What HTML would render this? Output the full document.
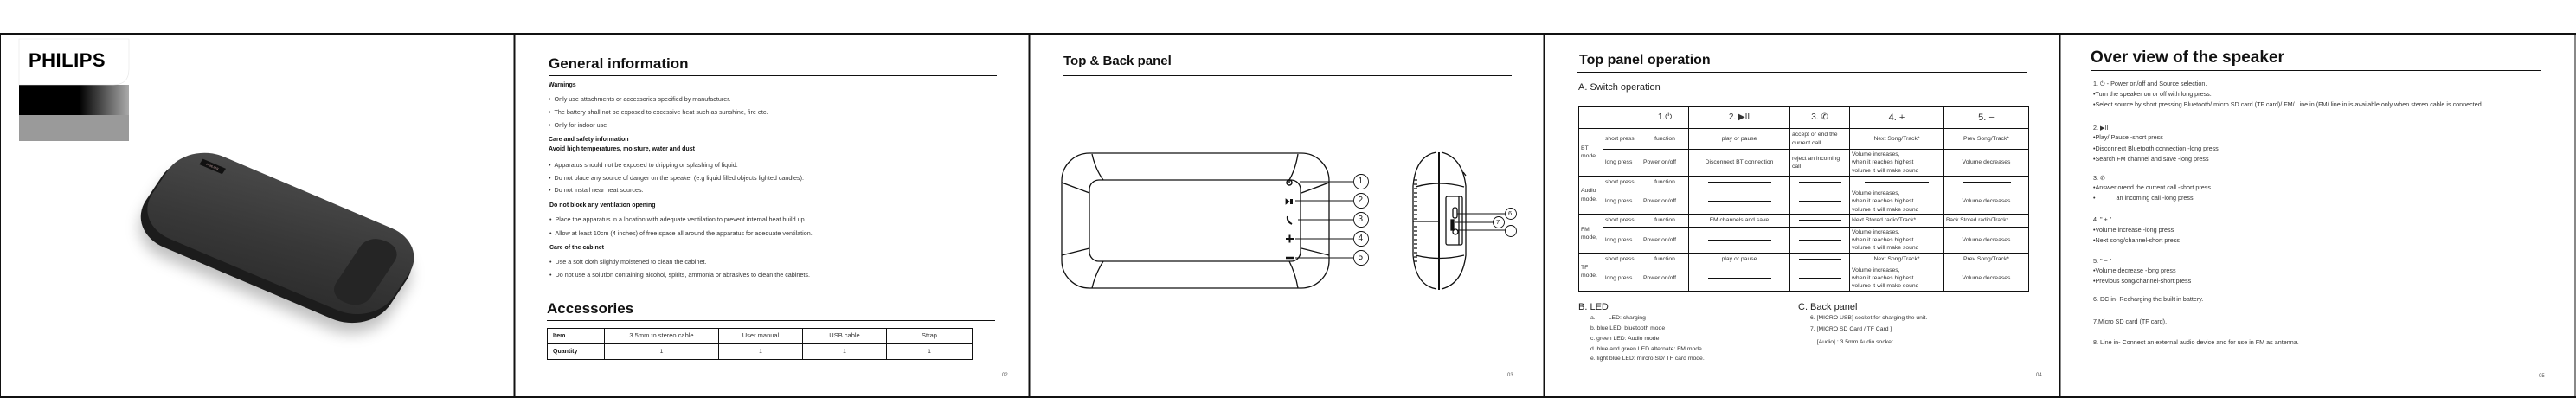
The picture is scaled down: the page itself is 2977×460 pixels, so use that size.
<!DOCTYPE html>
<html><head><meta charset="utf-8">
<style>
*{margin:0;padding:0;box-sizing:border-box}
html,body{width:2977px;height:460px;background:#fff;overflow:hidden;position:relative;font-family:"Liberation Sans",sans-serif;color:#222}
.t{position:absolute;white-space:nowrap;line-height:1}
.b{font-weight:bold;color:#111}
.s{font-size:7.2px;color:#333}
.h{font-weight:bold;color:#111}
table{border-collapse:collapse;table-layout:fixed;position:absolute}
td{border:1px solid #111;font-size:6.8px;color:#333;line-height:1.35;padding:0 2px;vertical-align:middle;white-space:nowrap;overflow:hidden}
.c{text-align:center}
.dash{display:inline-block;height:1px;background:#111;vertical-align:middle}
</style></head><body>

<svg width="2977" height="460" style="position:absolute;left:0;top:0" xmlns="http://www.w3.org/2000/svg">
<defs>
<linearGradient id="lg" x1="0" x2="1" y1="0" y2="0"><stop offset="0.55" stop-color="#000"/><stop offset="1" stop-color="#aaa"/></linearGradient>
</defs>
<g stroke="#111" fill="none">
<line x1="0" y1="39" x2="2977" y2="39" stroke-width="2"/>
<line x1="0" y1="459" x2="2977" y2="459" stroke-width="2"/>
<line x1="0.5" y1="39" x2="0.5" y2="460" stroke-width="1"/>
<line x1="594.5" y1="39" x2="594.5" y2="460" stroke-width="2"/>
<line x1="1189.5" y1="39" x2="1189.5" y2="460" stroke-width="2"/>
<line x1="1784.5" y1="39" x2="1784.5" y2="460" stroke-width="2"/>
<line x1="2380.5" y1="39" x2="2380.5" y2="460" stroke-width="2"/>
<line x1="2976" y1="39" x2="2976" y2="460" stroke-width="1"/>
<line x1="634" y1="87.5" x2="1152" y2="87.5" stroke-width="1"/>
<line x1="632" y1="370.5" x2="1150" y2="370.5" stroke-width="1"/>
<line x1="1229" y1="87.5" x2="1747" y2="87.5" stroke-width="1"/>
<line x1="1823" y1="83.5" x2="2343" y2="83.5" stroke-width="1"/>
<line x1="2416" y1="81.5" x2="2936" y2="81.5" stroke-width="1"/>
</g>
<rect x="22" y="98" width="127" height="36" fill="url(#lg)"/>
<rect x="22" y="133" width="127" height="30" fill="#9a9a9a"/>
<path d="M22 45 H149 V80 Q149 98 131 98 H22 Z" fill="#fff" stroke="#e4e4e4" stroke-width="0.6"/>
<g stroke="#111" fill="none" stroke-width="1.3">
<rect x="1227" y="177" width="309" height="156" rx="32"/>
<rect x="1259" y="208" width="244" height="94" rx="11"/>
<path d="M1262 178 Q1266 196 1275 208"/>
<path d="M1227 211 L1259 223"/>
<path d="M1227 295 L1259 287"/>
<path d="M1275 302 Q1266 316 1262 333"/>
<path d="M1500 178 Q1497 196 1490 208"/>
<path d="M1536 211 L1504 223"/>
<path d="M1536 295 L1504 287"/>
<path d="M1490 302 Q1497 316 1500 333"/>
<g stroke-width="0.9">
<line x1="1502" y1="210" x2="1564" y2="210"/>
<line x1="1497" y1="232" x2="1564" y2="232"/>
<line x1="1500" y1="254" x2="1564" y2="254"/>
<line x1="1497" y1="276" x2="1564" y2="276"/>
<line x1="1497" y1="298" x2="1564" y2="298"/>
<circle cx="1573" cy="210" r="8.5"/><circle cx="1573" cy="232" r="8.5"/><circle cx="1573" cy="254" r="8.5"/><circle cx="1573" cy="276" r="8.5"/><circle cx="1573" cy="298" r="8.5"/>
</g>
<circle cx="1490" cy="211" r="3" stroke-width="1.5"/><line x1="1490" y1="207" x2="1490" y2="211" stroke-width="1.5"/>
<path d="M1486 230 L1490 233 L1486 236 Z" fill="#111" stroke-width="0.8"/><rect x="1491" y="230" width="3" height="6" fill="#111" stroke="none"/>
<path d="M1488 250 Q1487 256 1493 259" stroke-width="2"/>
<line x1="1486" y1="276" x2="1495" y2="276" stroke-width="2"/><line x1="1490.5" y1="271.5" x2="1490.5" y2="280.5" stroke-width="2"/>
<line x1="1486" y1="298" x2="1496" y2="298" stroke-width="2.5"/>
</g>
<g stroke="#111" fill="none" stroke-width="1.3">
<path d="M1660 176 Q1636 180 1633 215 L1633 295 Q1636 330 1660 334"/>
<path d="M1666 176 Q1690 182 1694 215 L1694 295 Q1690 328 1666 334"/>
<line x1="1663" y1="176" x2="1663" y2="335" stroke-width="2"/>
<path d="M1636 216 Q1663 208 1692 216"/>
<path d="M1636 295 Q1663 302 1692 295"/>
<line x1="1633" y1="256" x2="1663" y2="256"/>
<rect x="1671" y="227" width="19" height="56" rx="2"/>
<line x1="1686" y1="227" x2="1686" y2="283"/>
<rect x="1679" y="240" width="5" height="12" rx="2"/>
<rect x="1677" y="254" width="3" height="12" fill="#111"/>
<circle cx="1682" cy="268" r="3"/>
<path d="M1691 199 L1694 203"/>
<g stroke-width="0.9">
<line x1="1684" y1="247" x2="1739" y2="247"/>
<line x1="1682" y1="257" x2="1726" y2="257"/>
<line x1="1685" y1="266" x2="1740" y2="266"/>
<circle cx="1746" cy="247" r="6.5"/><circle cx="1732" cy="257" r="6.5"/><circle cx="1746" cy="267" r="6.5"/>
</g>
<g stroke="#111" stroke-width="1.2">
<path d="M1634 208 h4 M1634 213 h4 M1634 218 h4 M1634 223 h4 M1634 228 h4 M1634 233 h4 M1634 238 h4 M1634 243 h4 M1634 248 h4 M1634 253 h4 M1634 262 h4 M1634 267 h4 M1634 272 h4 M1634 277 h4 M1634 282 h4 M1634 287 h4 M1634 292 h4 M1634 297 h4 M1634 302 h4"/>
</g>
</g>
</svg>

<!-- PAGE 1 -->
<div class="t" style="left:33px;top:59px;font-size:22px;font-weight:bold;color:#000;letter-spacing:0.5px">PHILIPS</div>
<div style="position:absolute;left:163px;top:202px;width:320px;height:140px;transform:scaleY(0.8) rotate(28deg)">
  <div style="position:absolute;left:0;top:8px;width:320px;height:140px;border-radius:50px;background:#1c1c1c;box-shadow:6px 14px 18px rgba(0,0,0,0.25)"></div>
  <div style="position:absolute;left:2px;top:0;width:316px;height:134px;border-radius:48px;background:linear-gradient(170deg,#4a4a4a,#383838 55%,#2c2c2c)"></div>
  <div style="position:absolute;left:250px;top:20px;width:45px;height:100px;border-radius:20px;background:#252525"></div>
  <div style="position:absolute;left:30px;top:14px;width:30px;height:9px;background:#111;font-size:4px;color:#caa;text-align:center;line-height:9px">PHILIPS</div>
</div>

<!-- PAGE 2 -->
<div class="t h" style="left:634px;top:65px;font-size:17px">General information</div>
<div class="t b" style="left:634px;top:95px;font-size:7px">Warnings</div>
<div class="t s" style="left:634px;top:111px">•&nbsp;&nbsp;Only use attachments or accessories specified by manufacturer.</div>
<div class="t s" style="left:634px;top:126px">•&nbsp;&nbsp;The battery shall not be exposed to excessive heat such as sunshine, fire etc.</div>
<div class="t s" style="left:634px;top:141px">•&nbsp;&nbsp;Only for indoor use</div>
<div class="t b" style="left:634px;top:158px;font-size:7px">Care and safety information</div>
<div class="t b" style="left:634px;top:169px;font-size:7px">Avoid high temperatures, moisture, water and dust</div>
<div class="t s" style="left:634px;top:187px">•&nbsp;&nbsp;Apparatus should not be exposed to dripping or splashing of liquid.</div>
<div class="t s" style="left:634px;top:202px">•&nbsp;&nbsp;Do not place any source of danger on the speaker (e.g liquid filled objects lighted candles).</div>
<div class="t s" style="left:634px;top:216px">•&nbsp;&nbsp;Do not install near heat sources.</div>
<div class="t b" style="left:635px;top:234px;font-size:7px">Do not block any ventilation opening</div>
<div class="t s" style="left:635px;top:250px">•&nbsp;&nbsp;Place the apparatus in a location with adequate ventilation to prevent internal heat build up.</div>
<div class="t s" style="left:635px;top:266px">•&nbsp;&nbsp;Allow at least 10cm (4 inches) of free space all around the apparatus for adequate ventilation.</div>
<div class="t b" style="left:635px;top:283px;font-size:7px">Care of the cabinet</div>
<div class="t s" style="left:635px;top:299px">•&nbsp;&nbsp;Use a soft cloth slightly moistened to clean the cabinet.</div>
<div class="t s" style="left:635px;top:314px">•&nbsp;&nbsp;Do not use a solution containing alcohol, spirits, ammonia or abrasives to clean the cabinets.</div>
<div class="t h" style="left:632px;top:348px;font-size:17px">Accessories</div>
<table style="left:632px;top:379px;width:491px">
<colgroup><col style="width:66px"><col style="width:132px"><col style="width:97px"><col style="width:97px"><col style="width:99px"></colgroup>
<tr style="height:18px"><td class="b" style="font-size:7px;padding-left:6px">Item</td><td class="c" style="font-size:7.5px">3.5mm to stereo cable</td><td class="c" style="font-size:7.5px">User manual</td><td class="c" style="font-size:7.5px">USB cable</td><td class="c" style="font-size:7.5px">Strap</td></tr>
<tr style="height:18px"><td class="b" style="font-size:7px;padding-left:6px">Quantity</td><td class="c">1</td><td class="c">1</td><td class="c">1</td><td class="c">1</td></tr>
</table>
<div class="t" style="left:1158px;top:431px;font-size:6px;color:#555">02</div>

<!-- PAGE 3 -->
<div class="t h" style="left:1229px;top:63px;font-size:15px">Top &amp; Back panel</div>
<div class="t" style="left:1569.5px;top:205px;font-size:10px">1</div>
<div class="t" style="left:1569.5px;top:227px;font-size:10px">2</div>
<div class="t" style="left:1569.5px;top:249px;font-size:10px">3</div>
<div class="t" style="left:1569.5px;top:271px;font-size:10px">4</div>
<div class="t" style="left:1569.5px;top:293px;font-size:10px">5</div>
<div class="t" style="left:1743px;top:243px;font-size:7.5px">6</div>
<div class="t" style="left:1729px;top:253px;font-size:7.5px">7</div>
<div class="t" style="left:1742px;top:431px;font-size:6px;color:#555">03</div>

<!-- PAGE 4 -->
<div class="t h" style="left:1825px;top:62px;font-size:16px">Top panel operation</div>
<div class="t" style="left:1824px;top:96px;font-size:11px;color:#222">A. Switch operation</div>
<table style="left:1824px;top:123px;width:520px">
<colgroup><col style="width:28px"><col style="width:44px"><col style="width:55px"><col style="width:117px"><col style="width:69px"><col style="width:109px"><col style="width:98px"></colgroup>
<tr style="height:25px"><td></td><td></td><td class="c" style="font-size:10px">1.⏻</td><td class="c" style="font-size:10px">2. ▶II</td><td class="c" style="font-size:10px">3. ✆</td><td class="c" style="font-size:11px">4. +</td><td class="c" style="font-size:11px">5. −</td></tr>
<tr style="height:24px"><td rowspan="2">BT<br>mode.</td><td>short press</td><td class="c">function</td><td class="c">play or pause</td><td>accept or end the<br>current call</td><td class="c">Next Song/Track*</td><td class="c">Prev Song/Track*</td></tr>
<tr style="height:31px"><td>long press</td><td>Power on/off</td><td class="c">Disconnect BT connection</td><td>reject an incoming<br>call</td><td>Volume increases,<br>when it reaches highest<br>volume it will make sound</td><td class="c">Volume decreases</td></tr>
<tr style="height:15px"><td rowspan="2">Audio<br>mode.</td><td>short press</td><td class="c">function</td><td class="c"><span class="dash" style="width:73px"></span></td><td class="c"><span class="dash" style="width:49px"></span></td><td class="c"><span class="dash" style="width:74px"></span></td><td class="c"><span class="dash" style="width:56px"></span></td></tr>
<tr style="height:29px"><td>long press</td><td>Power on/off</td><td class="c"><span class="dash" style="width:73px"></span></td><td class="c"><span class="dash" style="width:49px"></span></td><td>Volume increases,<br>when it reaches highest<br>volume it will make sound</td><td class="c">Volume decreases</td></tr>
<tr style="height:15px"><td rowspan="2">FM<br>mode,</td><td>short press</td><td class="c">function</td><td class="c">FM channels and save</td><td class="c"><span class="dash" style="width:49px"></span></td><td>Next Stored radio/Track*</td><td style="font-size:6.5px">Back Stored radio/Track*</td></tr>
<tr style="height:30px"><td>long press</td><td>Power on/off</td><td class="c"><span class="dash" style="width:73px"></span></td><td class="c"><span class="dash" style="width:49px"></span></td><td>Volume increases,<br>when it reaches highest<br>volume it will make sound</td><td class="c">Volume decreases</td></tr>
<tr style="height:15px"><td rowspan="2">TF<br>mode.</td><td>short press</td><td class="c">function</td><td class="c">play or pause</td><td class="c"><span class="dash" style="width:49px"></span></td><td class="c">Next Song/Track*</td><td class="c">Prev Song/Track*</td></tr>
<tr style="height:28px"><td>long press</td><td>Power on/off</td><td class="c"><span class="dash" style="width:73px"></span></td><td class="c"><span class="dash" style="width:49px"></span></td><td>Volume increases,<br>when it reaches highest<br>volume it will make sound</td><td class="c">Volume decreases</td></tr>
</table>
<div class="t" style="left:1824px;top:350px;font-size:11px;color:#222">B. LED</div>
<div class="t s" style="left:1838px;top:365px;font-size:6.8px">a.&nbsp;&nbsp;&nbsp;&nbsp;&nbsp;&nbsp;&nbsp;&nbsp;LED: charging</div>
<div class="t s" style="left:1838px;top:377px;font-size:6.8px">b. blue LED: bluetooth mode</div>
<div class="t s" style="left:1838px;top:389px;font-size:6.8px">c. green LED: Audio mode</div>
<div class="t s" style="left:1838px;top:401px;font-size:6.8px">d. blue and green LED alternate: FM mode</div>
<div class="t s" style="left:1838px;top:412px;font-size:6.8px">e. light blue LED: mircro SD/ TF card mode.</div>
<div class="t" style="left:2078px;top:350px;font-size:11px;color:#222">C. Back panel</div>
<div class="t s" style="left:2092px;top:365px;font-size:6.8px">6. [MICRO USB] socket for charging the unit.</div>
<div class="t s" style="left:2092px;top:378px;font-size:6.8px">7. [MICRO SD Card / TF Card ]</div>
<div class="t s" style="left:2096px;top:393px;font-size:6.8px">. [Audio] : 3.5mm Audio socket</div>
<div class="t" style="left:2353px;top:431px;font-size:6px;color:#555">04</div>

<!-- PAGE 5 -->
<div class="t h" style="left:2416px;top:57px;font-size:19px">Over view of the speaker</div>
<div class="t s" style="left:2419px;top:93px">1. ⏻ - Power on/off and Source selection.</div>
<div class="t s" style="left:2419px;top:105px">•Turn the speaker on or off with long press.</div>
<div class="t s" style="left:2419px;top:117px">•Select source by short pressing Bluetooth/ micro SD card (TF card)/ FM/ Line in (FM/ line in is available only when stereo cable is connected.</div>
<div class="t s" style="left:2419px;top:144px">2. ▶II</div>
<div class="t s" style="left:2419px;top:155px">•Play/ Pause -short press</div>
<div class="t s" style="left:2419px;top:168px">•Disconnect Bluetooth connection -long press</div>
<div class="t s" style="left:2419px;top:180px">•Search FM channel and save -long press</div>
<div class="t s" style="left:2419px;top:202px">3. ✆</div>
<div class="t s" style="left:2419px;top:213px">•Answer orend the current call -short press</div>
<div class="t s" style="left:2419px;top:225px">•&nbsp;&nbsp;&nbsp;&nbsp;&nbsp;&nbsp;&nbsp;&nbsp;&nbsp;&nbsp;&nbsp;&nbsp;an incoming call -long press</div>
<div class="t s" style="left:2419px;top:250px">4. " + "</div>
<div class="t s" style="left:2419px;top:262px">•Volume increase -long press</div>
<div class="t s" style="left:2419px;top:274px">•Next song/channel-short press</div>
<div class="t s" style="left:2419px;top:298px">5. " − "</div>
<div class="t s" style="left:2419px;top:309px">•Volume decrease -long press</div>
<div class="t s" style="left:2419px;top:321px">•Previous song/channel-short press</div>
<div class="t s" style="left:2419px;top:342px">6. DC in- Recharging the built in battery.</div>
<div class="t s" style="left:2419px;top:368px">7.Micro SD card (TF card).</div>
<div class="t s" style="left:2419px;top:392px">8. Line in- Connect an external audio device and for use in FM as antenna.</div>
<div class="t" style="left:2934px;top:432px;font-size:6px;color:#555">05</div>
</body></html>
